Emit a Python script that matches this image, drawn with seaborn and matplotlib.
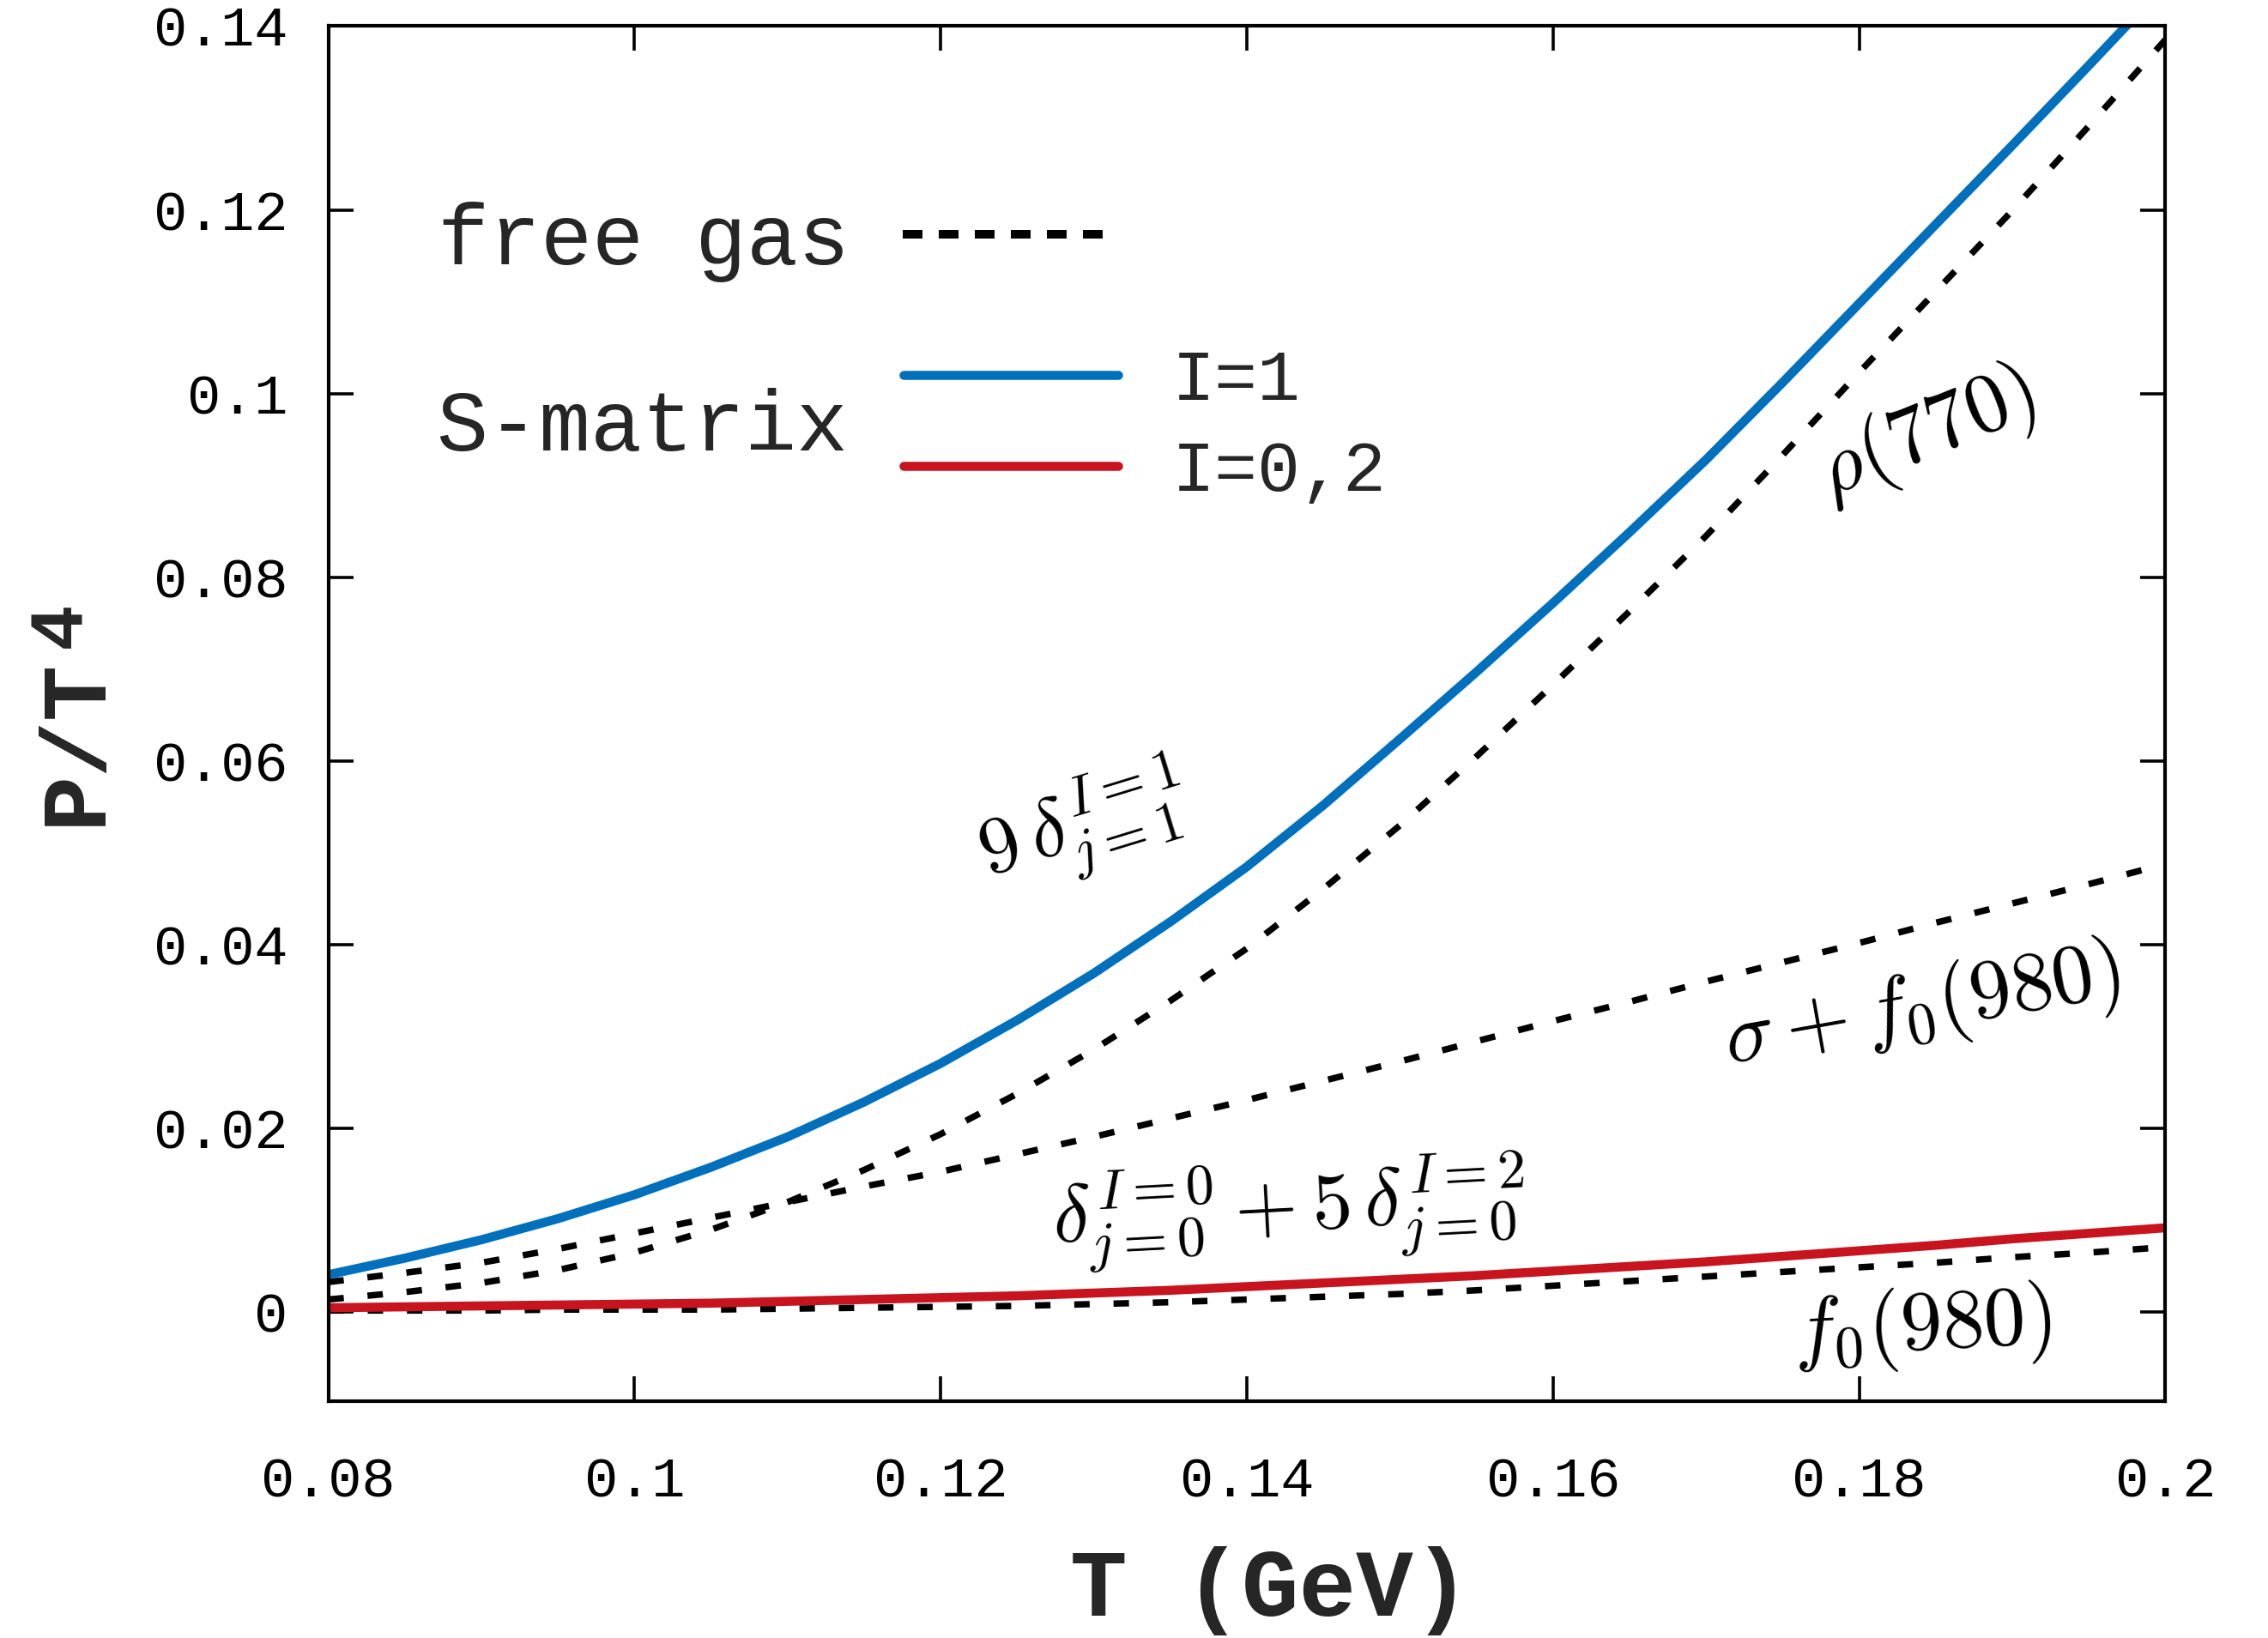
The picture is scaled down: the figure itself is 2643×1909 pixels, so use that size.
import numpy as np
import pandas as pd
import matplotlib
matplotlib.use("Agg")
import matplotlib.pyplot as plt
from matplotlib.lines import Line2D
import seaborn as sns

# ---------------- data ----------------
T_grid = [0.080, 0.085, 0.090, 0.095, 0.100, 0.105, 0.110, 0.115, 0.120, 0.125,
          0.130, 0.135, 0.140, 0.145, 0.150, 0.155, 0.160, 0.165, 0.170, 0.175,
          0.180, 0.185, 0.190, 0.195, 0.200]
smatrix_I1 = [0.0041, 0.0059, 0.0079, 0.0102, 0.0128, 0.0158, 0.0191, 0.0229, 0.0271, 0.0318,
              0.0369, 0.0425, 0.0485, 0.0552, 0.0624, 0.0697, 0.0772, 0.0849, 0.0928, 0.1012,
              0.1098, 0.1184, 0.1270, 0.1357, 0.1445]
smatrix_I02 = [0.0005, 0.0006, 0.0007, 0.0008, 0.0009, 0.0010, 0.0012, 0.0014, 0.0016, 0.0018,
               0.0021, 0.0024, 0.0028, 0.0032, 0.0036, 0.0040, 0.0045, 0.0050, 0.0055, 0.0061,
               0.0067, 0.0073, 0.0080, 0.0086, 0.0092]
free_rho770 = [0.0014, 0.0022, 0.0032, 0.0046, 0.0065, 0.0090, 0.0120, 0.0155, 0.0194, 0.0238,
               0.0286, 0.0339, 0.0396, 0.0461, 0.0530, 0.0605, 0.0683, 0.0763, 0.0845, 0.0933,
               0.1023, 0.1111, 0.1199, 0.1291, 0.1385]
free_sigma_f0 = [0.0033, 0.0043, 0.0054, 0.0069, 0.0086, 0.0103, 0.0120, 0.0137, 0.0153, 0.0172,
                 0.0191, 0.0211, 0.0231, 0.0252, 0.0273, 0.0295, 0.0317, 0.0338, 0.0360, 0.0381,
                 0.0402, 0.0424, 0.0445, 0.0466, 0.0488]
free_f0 = [0.0002, 0.0002, 0.0002, 0.0003, 0.0003, 0.0003, 0.0004, 0.0005, 0.0006, 0.0007,
           0.0009, 0.0011, 0.0014, 0.0017, 0.0020, 0.0024, 0.0029, 0.0034, 0.0039, 0.0044,
           0.0049, 0.0054, 0.0060, 0.0065, 0.0071]

x_ticks = [0.08, 0.10, 0.12, 0.14, 0.16, 0.18, 0.20]
x_ticklabels = ["0.08", "0.1", "0.12", "0.14", "0.16", "0.18", "0.2"]
y_ticks = [0.0, 0.02, 0.04, 0.06, 0.08, 0.10, 0.12, 0.14]
y_ticklabels = ["0", "0.02", "0.04", "0.06", "0.08", "0.1", "0.12", "0.14"]

BLUE = "#0070BD"
RED = "#C8141F"

# ---------------- style ----------------
sns.set_theme(style="ticks")
plt.rcParams["font.family"] = ["Liberation Mono", "DejaVu Sans"]
plt.rcParams["mathtext.fontset"] = "cm"
plt.rcParams["axes.linewidth"] = 1.5
plt.rcParams["axes.edgecolor"] = "black"

fig = plt.figure(figsize=(13.215, 9.545), dpi=200)
ax = fig.add_axes([0.1448, 0.1444, 0.9547 - 0.1448, 0.9841 - 0.1444])

df = pd.DataFrame({
    "T": T_grid,
    "I1": smatrix_I1,
    "I02": smatrix_I02,
    "rho": free_rho770,
    "sig": free_sigma_f0,
    "f0": free_f0,
})

dash = (0, (2.4, 3.7))
lw_dash = 2.7
lw_solid = 3.8

for col in ["rho", "sig", "f0"]:
    sns.lineplot(data=df, x="T", y=col, ax=ax, color="black", lw=lw_dash,
                 linestyle=dash, legend=False)
sns.lineplot(data=df, x="T", y="I1", ax=ax, color=BLUE, lw=lw_solid, legend=False)
sns.lineplot(data=df, x="T", y="I02", ax=ax, color=RED, lw=lw_solid, legend=False)

ax.set_xlim(0.08, 0.20)
ax.set_ylim(-0.0097, 0.14)
ax.set_xticks(x_ticks)
ax.set_xticklabels(x_ticklabels)
ax.set_yticks(y_ticks)
ax.set_yticklabels(y_ticklabels)
ax.tick_params(axis="both", direction="in", top=True, right=True,
               length=10.6, width=1.3, colors="black", labelsize=23.5)
ax.tick_params(axis="x", pad=23)
ax.tick_params(axis="y", pad=17)
for s in ax.spines.values():
    s.set_visible(True)
    s.set_linewidth(1.5)
    s.set_color("black")
ax.set_xlabel("")
ax.set_ylabel("")

# axis labels
fig.text(1480 / 2643, 1 - 1854 / 1909, "T (GeV)", ha="center", va="center",
         fontsize=40, fontweight="bold")
fig.text(89 / 2643, 1 - 864 / 1909, "P/T", ha="center", va="center",
         rotation=90, fontsize=39, fontweight="bold")
fig.text(72 / 2643, 1 - 728 / 1909, "4", ha="center", va="center",
         rotation=90, fontsize=32, fontweight="bold")

# legends
h_free = Line2D([], [], color="black", lw=3.6, linestyle=(0, (2.3, 1.9)))
leg1 = ax.legend(handles=[h_free], labels=["free gas"], markerfirst=False,
                 frameon=False, loc="center left",
                 bbox_to_anchor=(510 / 2643, 1 - 282 / 1909),
                 bbox_transform=fig.transFigure, fontsize=36,
                 handlelength=2.4, handletextpad=0.62, borderpad=0,
                 borderaxespad=0)
ax.add_artist(leg1)
h_b = Line2D([], [], color=BLUE, lw=lw_solid)
h_r = Line2D([], [], color=RED, lw=lw_solid)
leg2 = ax.legend(handles=[h_b, h_r], labels=["I=1", "I=0,2"],
                 frameon=False, loc="center left",
                 bbox_to_anchor=(1053 / 2643, 1 - 497 / 1909),
                 bbox_transform=fig.transFigure, fontsize=30,
                 handlelength=3.0, handletextpad=0.75, labelspacing=0.34,
                 borderpad=0, borderaxespad=0)
fig.text(508 / 2643, 1 - 499 / 1909, "S-matrix", ha="left", va="center",
         fontsize=36)

# curve annotations
ann = dict(ha="center", va="center", rotation_mode="anchor", color="black")
ax.text(0.1293, 0.0528, r"$9\,\delta^{I=1}_{j=1}$", fontsize=34, rotation=17, **ann)
ax.text(0.1844, 0.0955, r"$\rho(770)$", fontsize=35, rotation=22, **ann)
ax.text(0.1841, 0.0331, r"$\sigma + f_0(980)$", fontsize=35, rotation=10, **ann)
ax.text(0.1428, 0.0109, r"$\delta^{I=0}_{j=0} + 5\,\delta^{I=2}_{j=0}$", fontsize=34,
        rotation=3, **ann)
ax.text(0.1841, -0.0017, r"$f_0(980)$", fontsize=35, rotation=3, **ann)

fig.savefig("out.png", dpi=200)
